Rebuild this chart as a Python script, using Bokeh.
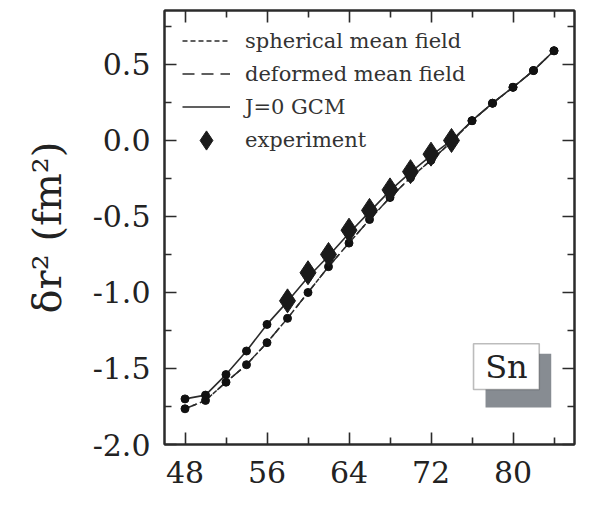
from bokeh.plotting import figure
from bokeh.models import (FixedTicker, LinearAxis, Range1d, Legend, LegendItem,
                          BoxAnnotation, Label, PrintfTickFormatter)
from bokeh.embed import file_html
from bokeh.resources import INLINE

# ---- data ----
neutrons = [48, 50, 52, 54, 56, 58, 60, 62, 64, 66, 68, 70, 72, 74, 76, 78, 80, 82, 84]
gcm = [-1.70, -1.675, -1.54, -1.385, -1.21, -1.06, -0.90, -0.76, -0.61, -0.47,
       -0.33, -0.21, -0.10, 0.0, 0.13, 0.245, 0.35, 0.46, 0.59]
spherical = [-1.765, -1.71, -1.59, -1.475, -1.33, -1.17, -1.00, -0.83, -0.675, -0.52,
             -0.375, -0.245, -0.13, -0.01, 0.13, 0.245, 0.35, 0.46, 0.59]
deformed = [-1.765, -1.71, -1.59, -1.475, -1.33, -1.17, -1.00, -0.83, -0.675, -0.52,
            -0.375, -0.245, -0.13, -0.01, 0.13, 0.245, 0.35, 0.46, 0.59]
exp_neutrons = [58, 60, 62, 64, 66, 68, 70, 72, 74]
experiment = [-1.055, -0.87, -0.75, -0.59, -0.46, -0.325, -0.205, -0.09, 0.0]

x_major = [48, 56, 64, 72, 80]
x_minor = [52, 60, 68, 76, 84]
y_major = [-2.0, -1.5, -1.0, -0.5, 0.0, 0.5]
y_minor = [-1.75, -1.25, -0.75, -0.25, 0.25, 0.75]

INK = "#2b2b2b"
SERIF = "DejaVu Serif"

p = figure(width=595, height=514, x_range=Range1d(46, 86), y_range=Range1d(-2.0, 0.855),
           output_backend="svg", toolbar_location=None,
           x_axis_location=None, y_axis_location=None,
           min_border_left=164, min_border_right=21, min_border_top=10, min_border_bottom=70)
p.xgrid.visible = False
p.ygrid.visible = False
p.outline_line_color = INK
p.outline_line_width = 2
p.background_fill_color = "white"
p.border_fill_color = "white"


def style_axis(ax, ticks, labels=True):
    ax.axis_line_color = INK
    ax.axis_line_width = 2
    ax.major_tick_line_color = INK
    ax.minor_tick_line_color = INK
    ax.major_tick_line_width = 1.6
    ax.minor_tick_line_width = 1.6
    ax.major_tick_in = 12
    ax.major_tick_out = 0
    ax.minor_tick_in = 7
    ax.minor_tick_out = 0
    if labels:
        ax.major_label_text_font = SERIF
        ax.major_label_text_font_size = "30px"
        ax.major_label_text_color = "#222222"
    else:
        ax.major_label_overrides = {t: "" for t in ticks}
        ax.major_label_text_font_size = "1px"
        ax.major_label_text_color = None
        ax.major_label_standoff = 0


xt = FixedTicker(ticks=x_major, minor_ticks=x_minor)
yt = FixedTicker(ticks=y_major, minor_ticks=y_minor)

bottom = LinearAxis(ticker=xt)
style_axis(bottom, x_major)
bottom.major_label_standoff = 16
top = LinearAxis(ticker=xt)
style_axis(top, x_major, labels=False)
left = LinearAxis(ticker=yt, formatter=PrintfTickFormatter(format="%.1f"))
style_axis(left, y_major)
left.major_label_standoff = 14
left.axis_label = "δr² (fm²)"
left.axis_label_text_font = SERIF
left.axis_label_text_font_style = "normal"
left.axis_label_text_font_size = "40px"
left.axis_label_text_color = "#222222"
left.axis_label_standoff = 20
right = LinearAxis(ticker=yt)
style_axis(right, y_major, labels=False)

p.add_layout(bottom, "below")
p.add_layout(top, "above")
p.add_layout(left, "left")
p.add_layout(right, "right")

r_def = p.line(neutrons, deformed, line_color=INK, line_width=1.5, line_dash="12 7")
r_sph = p.line(neutrons, spherical, line_color=INK, line_width=1.5, line_dash="5 3")
r_gcm = p.line(neutrons, gcm, line_color=INK, line_width=1.6)
p.scatter(neutrons, spherical, size=8, color="#111111")
p.scatter(neutrons, gcm, size=8, color="#111111")
r_exp = p.scatter(exp_neutrons, experiment, marker="diamond", size=24, color="#1a1a1a")

legend_style = dict(background_fill_alpha=0, border_line_alpha=0,
                    label_text_font=SERIF, label_text_font_size="21px",
                    label_text_color="#333333", glyph_width=48, label_height=32,
                    spacing=0, padding=0, label_standoff=15, margin=0)

lines_legend = Legend(items=[
    LegendItem(label="spherical mean field", renderers=[r_sph]),
    LegendItem(label="deformed mean field", renderers=[r_def]),
    LegendItem(label="J=0 GCM", renderers=[r_gcm]),
], location=(18, 321), glyph_height=33, **legend_style)
p.add_layout(lines_legend)

marker_legend = Legend(items=[
    LegendItem(label="experiment", renderers=[r_exp]),
], location=(18, 276), glyph_height=56, **legend_style)
p.add_layout(marker_legend)

p.add_layout(BoxAnnotation(left=77.32, right=83.73, top=-1.403, bottom=-1.756,
                           fill_color="#878c92", fill_alpha=1, line_color=None))
p.add_layout(BoxAnnotation(left=76.15, right=82.56, top=-1.337, bottom=-1.638,
                           fill_color="white", fill_alpha=1, line_color="#222222",
                           line_width=1.6))
p.add_layout(Label(x=79.36, y=-1.49, text="Sn", text_align="center", text_baseline="middle",
                   text_font=SERIF, text_font_size="32px", text_color="#222222"))

open("out.html", "w").write(file_html(p, INLINE))
